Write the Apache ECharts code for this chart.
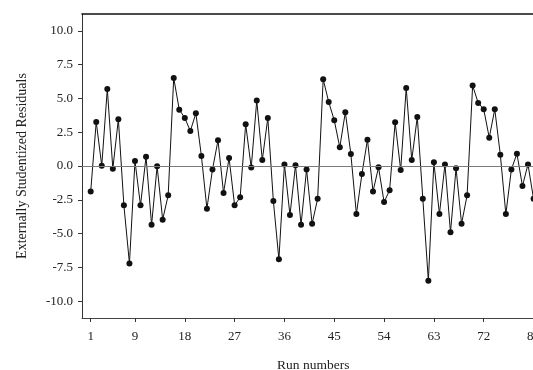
<!DOCTYPE html>
<html>
<head>
<meta charset="utf-8">
<script src="https://cdn.jsdelivr.net/npm/echarts@6/dist/echarts.min.js"></script>
<style>
  html, body { margin: 0; padding: 0; background: #fff; }
  #chart { width: 533px; height: 370px; }
</style>
</head>
<body>
<div id="chart"></div>
<script>
// Externally studentized residuals by run order
const residuals = [
  -1.88, 3.26, 0.02, 5.70, -0.20, 3.46, -2.91, -7.21, 0.37, -2.91,
  0.69, -4.35, -0.02, -3.97, -2.17, 6.52, 4.17, 3.56, 2.59, 3.90,
  0.74, -3.16, -0.25, 1.90, -2.00, 0.60, -2.91, -2.32, 3.09, -0.12,
  4.84, 0.44, 3.56, -2.59, -6.91, 0.12, -3.63, 0.05, -4.35, -0.25,
  -4.27, -2.42, 6.42, 4.74, 3.38, 1.38, 3.98, 0.89, -3.56, -0.59,
  1.95, -1.88, -0.10, -2.67, -1.80, 3.23, -0.30, 5.78, 0.44, 3.63,
  -2.42, -8.49, 0.27, -3.56, 0.12, -4.91, -0.17, -4.27, -2.17, 5.95,
  4.67, 4.20, 2.10, 4.20, 0.84, -3.56, -0.25, 0.91, -1.48, 0.12,
  -2.42
];
const runTicks = [1, 9, 18, 27, 36, 45, 54, 63, 72, 81];
const residualTicks = [-10, -7.5, -5, -2.5, 0, 2.5, 5, 7.5, 10];

const points = residuals.map((v, i) => [i + 1, v]);
const serif = '"Liberation Serif", "Times New Roman", serif';

const chart = echarts.init(document.getElementById('chart'), null, { renderer: 'canvas' });
chart.setOption({
  animation: false,
  backgroundColor: '#fff',
  // plot area runs past the right edge of the page
  grid: { left: 82, top: 14, width: 462.6, bottom: 52, containLabel: false, outerBoundsMode: 'none' },
  xAxis: [{
    type: 'value',
    min: -0.57,
    max: 83,
    name: 'Run numbers',
    nameLocation: 'middle',
    nameGap: 40,
    nameTextStyle: { fontFamily: serif, fontSize: 13.5, color: '#222' },
    axisLine: { show: true, onZero: false, lineStyle: { color: '#444', width: 1 } },
    axisTick: { show: true, length: 4, inside: false, customValues: runTicks, lineStyle: { color: '#333' } },
    axisLabel: { customValues: runTicks, margin: 12, fontFamily: serif, fontSize: 13, color: '#222', hideOverlap: false },
    splitLine: { show: false }
  }, {
    type: 'value',
    position: 'top',
    min: -0.57,
    max: 83,
    axisLine: { show: true, onZero: false, lineStyle: { color: '#111', width: 1.5 } },
    axisTick: { show: false },
    axisLabel: { show: false },
    splitLine: { show: false }
  }],
  yAxis: {
    type: 'value',
    min: -11.25,
    max: 11.25,
    name: 'Externally Studentized Residuals',
    nameLocation: 'middle',
    nameGap: 53,
    nameTextStyle: { fontFamily: serif, fontSize: 14, color: '#222' },
    axisLine: { show: true, onZero: false, lineStyle: { color: '#333', width: 1 } },
    axisTick: { show: true, length: 4, customValues: residualTicks, lineStyle: { color: '#333' } },
    axisLabel: {
      customValues: residualTicks,
      margin: 9,
      fontFamily: serif,
      fontSize: 13,
      color: '#222',
      formatter: v => v.toFixed(1)
    },
    splitLine: { show: false }
  },
  series: [{
    type: 'line',
    data: points,
    symbol: 'circle',
    symbolSize: 6,
    showSymbol: true,
    itemStyle: { color: '#111' },
    lineStyle: { color: '#111', width: 1 },
    markLine: {
      silent: true,
      symbol: 'none',
      label: { show: false },
      lineStyle: { color: '#7a7a7a', width: 1, type: 'solid' },
      data: [{ yAxis: 0 }]
    }
  }]
});
</script>
</body>
</html>
